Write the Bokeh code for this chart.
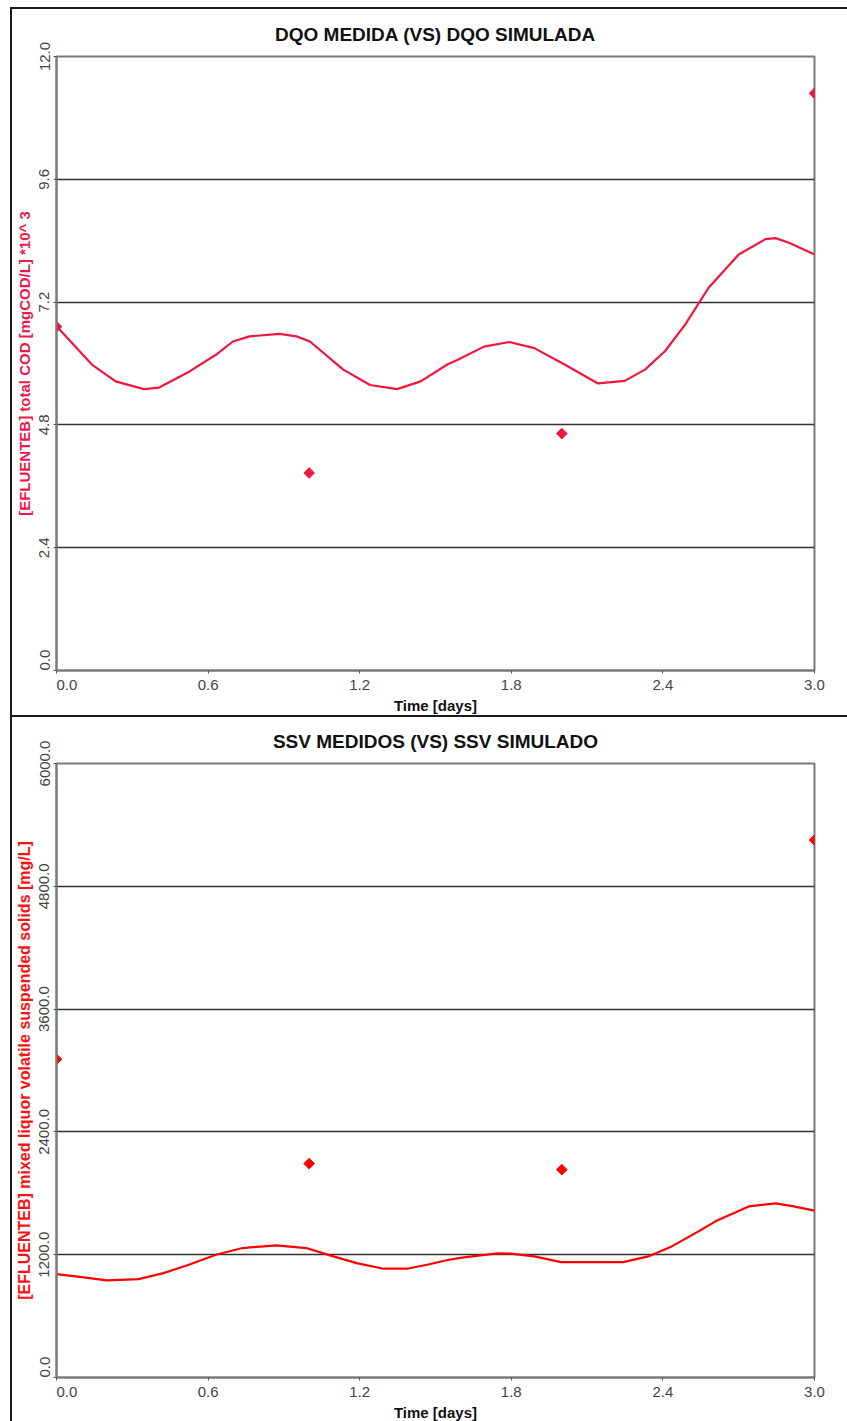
from bokeh.plotting import figure
from bokeh.layouts import column
from bokeh.models import Range1d, FixedTicker, PrintfTickFormatter, ColumnDataSource
from bokeh.embed import file_html
from bokeh.resources import INLINE
import numpy as np

# ---------------- data ----------------
x_ticks = [0.0, 0.6, 1.2, 1.8, 2.4, 3.0]

cod_ticks = [0.0, 2.4, 4.8, 7.2, 9.6, 12.0]
cod_sim_t = [0.0, 0.14, 0.234, 0.346, 0.406, 0.525, 0.631, 0.698, 0.764, 0.883, 0.950, 1.003,
             1.135, 1.241, 1.348, 1.441, 1.547, 1.586, 1.692, 1.792, 1.891, 2.011, 2.143, 2.249,
             2.329, 2.408, 2.488, 2.581, 2.700, 2.806, 2.846, 2.899, 3.0]
cod_sim_v = [6.73, 5.98, 5.65, 5.50, 5.53, 5.84, 6.17, 6.43, 6.53, 6.58, 6.53, 6.43,
             5.88, 5.58, 5.50, 5.65, 5.98, 6.07, 6.33, 6.42, 6.30, 5.98, 5.61, 5.66,
             5.88, 6.24, 6.76, 7.48, 8.13, 8.43, 8.45, 8.36, 8.13]
cod_meas_t = [0.0, 1.0, 2.0, 3.0]
cod_meas_v = [6.72, 3.86, 4.63, 11.28]

ssv_ticks = [0.0, 1200.0, 2400.0, 3600.0, 4800.0, 6000.0]
ssv_sim_t = [0.0, 0.10, 0.199, 0.325, 0.423, 0.524, 0.631, 0.736, 0.869, 0.989, 1.082, 1.188,
             1.294, 1.387, 1.467, 1.553, 1.612, 1.745, 1.798, 1.891, 1.997, 2.117, 2.243,
             2.342, 2.435, 2.541, 2.608, 2.740, 2.846, 2.912, 3.0]
ssv_sim_v = [1010, 981, 949, 961, 1020, 1102, 1200, 1265, 1291, 1265, 1193, 1118,
             1063, 1063, 1102, 1151, 1174, 1213, 1210, 1183, 1128, 1128, 1128,
             1183, 1281, 1428, 1526, 1672, 1702, 1675, 1630]
ssv_meas_t = [0.0, 1.0, 2.0, 3.0]
ssv_meas_v = [3110, 2090, 2031, 5252]

FONT = "Liberation Sans"
TICK_SIZE = "15px"
PAD = "\u00a0" * 5   # shifts the corner "0.0" labels off the corner, as in the original


def make_chart(title, ylabel, yticks, ymax, sim_t, sim_v, meas_t, meas_v, color, label_color,
               height, mb_top, mb_bottom, ylabel_size, margin):
    p = figure(width=837, height=height, output_backend="svg", toolbar_location=None,
               x_range=Range1d(0, 3), y_range=Range1d(0, ymax),
               min_border_left=44, min_border_right=35, min_border_top=mb_top,
               min_border_bottom=mb_bottom, background_fill_color="white",
               border_fill_color="white", margin=margin,
               styles={"border-top": "2px solid #1a1a1a", "border-left": "2px solid #1a1a1a",
                       "box-sizing": "border-box"})
    p.title.text = title
    p.title.align = "center"
    p.title.text_font = FONT
    p.title.text_font_size = "19px"
    p.title.text_font_style = "bold"
    p.title.text_color = "#111111"
    p.title.standoff = 23

    p.outline_line_color = "#7a7a7a"
    p.outline_line_width = 2

    p.xgrid.visible = False
    p.ygrid.grid_line_color = "#333333"
    p.ygrid.grid_line_width = 1.6
    p.ygrid.ticker = FixedTicker(ticks=yticks)

    xa = p.xaxis[0]
    xa.ticker = FixedTicker(ticks=x_ticks)
    xa.formatter = PrintfTickFormatter(format="%.1f")
    xa.major_label_overrides = {0: PAD + "%.1f" % x_ticks[0]}
    xa.axis_label = "Time [days]"
    xa.axis_label_text_font = FONT
    xa.axis_label_text_font_size = "15px"
    xa.axis_label_text_font_style = "bold"
    xa.axis_label_text_color = "#111111"
    xa.axis_label_standoff = 1
    xa.major_label_text_font = FONT
    xa.major_label_text_font_size = TICK_SIZE
    xa.major_label_text_color = "#444444"
    xa.major_label_standoff = 2

    ya = p.yaxis[0]
    ya.ticker = FixedTicker(ticks=yticks)
    ya.formatter = PrintfTickFormatter(format="%.1f")
    ya.major_label_overrides = {0: PAD + "%.1f" % yticks[0]}
    ya.major_label_orientation = "vertical"
    ya.axis_label = ylabel
    ya.axis_label_text_font = FONT
    ya.axis_label_text_font_size = ylabel_size
    ya.axis_label_text_font_style = "bold"
    ya.axis_label_text_color = label_color
    ya.axis_label_standoff = 0
    ya.major_label_text_font = FONT
    ya.major_label_text_font_size = TICK_SIZE
    ya.major_label_text_color = "#444444"
    ya.major_label_standoff = 1

    for ax in (xa, ya):
        ax.axis_line_color = "#7a7a7a"
        ax.axis_line_width = 2
        ax.major_tick_line_color = "#555555"
        ax.major_tick_out = 3
        ax.major_tick_in = 0
        ax.minor_tick_line_color = None

    sim = ColumnDataSource(dict(t=sim_t, v=sim_v))
    meas = ColumnDataSource(dict(t=meas_t, v=meas_v))
    p.line("t", "v", source=sim, line_color=color, line_width=2.2)
    p.scatter("t", "v", source=meas, marker="square", size=7.5, angle=np.pi / 4,
              fill_color=color, line_color=color)
    return p


p1 = make_chart("DQO MEDIDA (VS) DQO SIMULADA",
                "[EFLUENTEB] total COD [mgCOD/L] *10^ 3",
                cod_ticks, 12.0, cod_sim_t, cod_sim_v, cod_meas_t, cod_meas_v,
                "#F2163F", "#F0184A", 708, 47, 47, "15px", (7, 0, 0, 10))
p2 = make_chart("SSV MEDIDOS (VS) SSV SIMULADO",
                "[EFLUENTEB] mixed liquor volatile suspended solids [mg/L]",
                ssv_ticks, 6000.0, ssv_sim_t, ssv_sim_v, ssv_meas_t, ssv_meas_v,
                "#FF0000", "#FF1010", 706, 46, 45, "16px", (0, 0, 0, 10))

layout = column(p1, p2, spacing=0)
open("out.html", "w").write(file_html(layout, INLINE))
